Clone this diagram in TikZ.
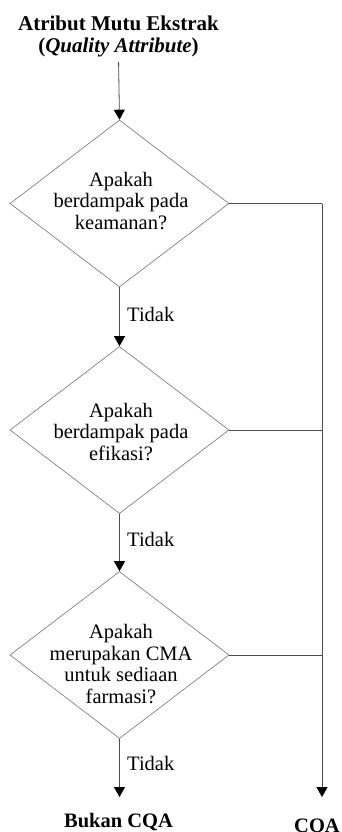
\documentclass[tikz,border=0pt]{standalone}
\usepackage{fontspec}
\setmainfont{Liberation Serif}
\usetikzlibrary{shapes.geometric,arrows.meta}
\begin{document}
\begin{tikzpicture}[x=1pt,y=-1pt,
  every node/.style={font=\fontsize{20.5}{21.5}\selectfont, inner sep=0pt, text=black},
  dia/.style={draw=black!55, line width=0.6pt, diamond, minimum width=219pt, minimum height=167pt, inner sep=0pt},
  qtext/.style={align=center},
  conn/.style={draw=black!70, line width=0.8pt},
  arr/.style={conn, -{Triangle[width=11pt,length=10pt,color=black]}},
  lbl/.style={anchor=west},
  endtext/.style={font=\fontsize{20.5}{21.5}\selectfont\bfseries, anchor=base}
]
\fill[white] (0,0) rectangle (341,832);
\useasboundingbox (0,0) rectangle (341,832);

\node[align=center, font=\fontsize{21}{22}\selectfont\bfseries, anchor=north] (title) at (118.5,15.5)
  {Atribut Mutu Ekstrak\\(\textit{Quality Attribute})};

\node[dia] (d1) at (119.5,203.5) {};
\node[qtext] (t1) at (121,201) {Apakah\\berdampak pada\\keamanan?};

\node[dia] (d2) at (119.5,430) {};
\node[qtext] (t2) at (121,432) {Apakah\\berdampak pada\\efikasi?};

\node[dia] (d3) at (119.5,655) {};
\node[qtext] (t3) at (121,664) {Apakah\\merupakan CMA\\untuk sediaan\\farmasi?};

\node[endtext] (bukan) at (118.5,827) {Bukan CQA};
\node[endtext] (cqa) at (317,832) {CQA};

\coordinate (rt) at (322,203.5);
\coordinate (rb) at (322,797);

\draw[arr, shorten <=5pt] (title.south) -- (d1.north);
\draw[arr] (d1.south) -- (d2.north);
\draw[arr] (d2.south) -- (d3.north);
\draw[arr] (d3.south) -- (d3.south |- rb);

\draw[conn] (d1.east) -- (rt);
\draw[arr] (rt) -- (rb);
\draw[conn] (d2.east) -- (d2.east -| rt);
\draw[conn] (d3.east) -- (d3.east -| rt);

\node[lbl] (l1) at (127,314) {Tidak};
\node[lbl] (l2) at (127,539) {Tidak};
\node[lbl] (l3) at (127,763) {Tidak};
\end{tikzpicture}
\end{document}
